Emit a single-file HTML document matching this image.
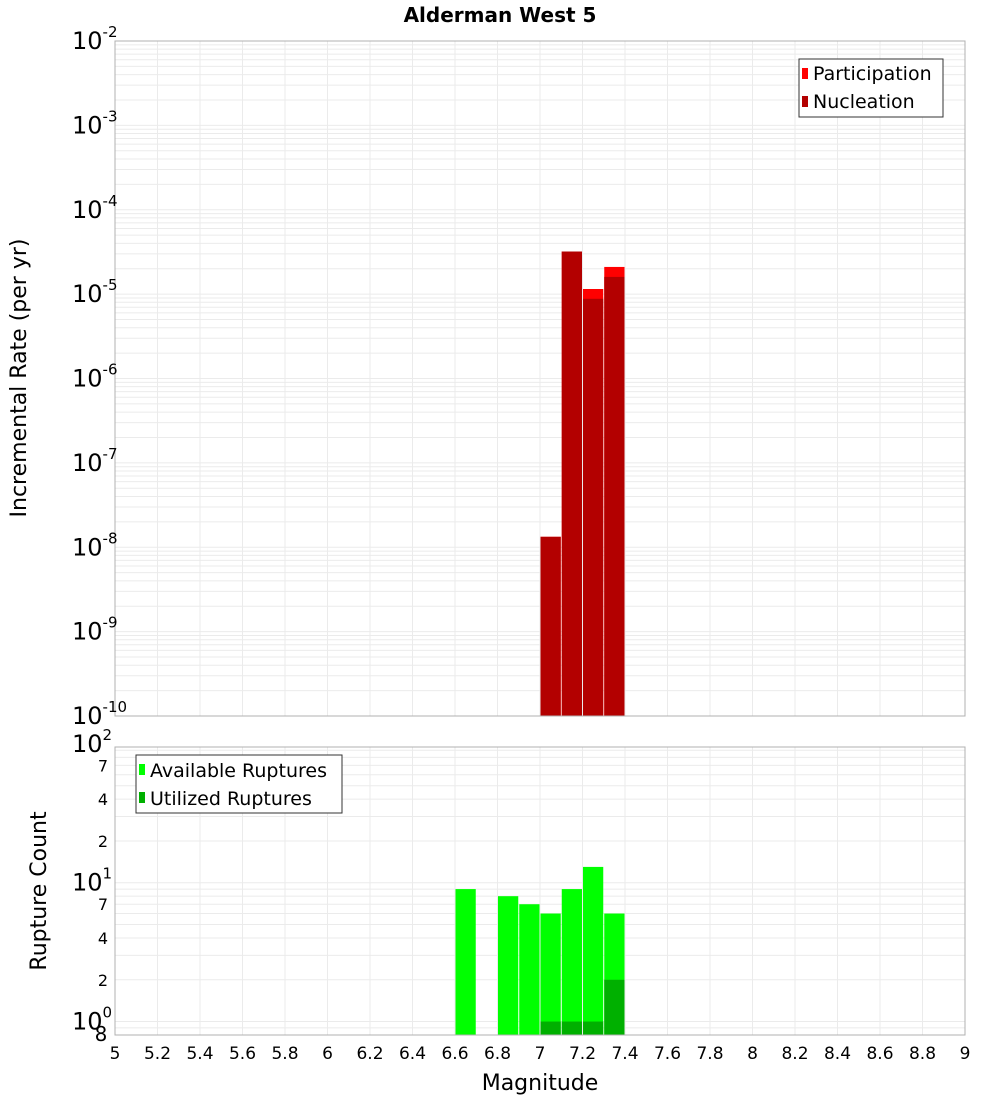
<!DOCTYPE html>
<html><head><meta charset="utf-8">
<style>
html,body{margin:0;padding:0;background:#fff;}
svg{display:block;font-family:"DejaVu Sans","Liberation Sans",sans-serif;}
</style></head>
<body>
<svg id="chart" width="1000" height="1100" xmlns="http://www.w3.org/2000/svg"></svg>
<script>
// ---- data ----
const magBins = [6.65, 6.75, 6.85, 6.95, 7.05, 7.15, 7.25, 7.35];
const participation = [0, 0, 0, 0, 1.33e-8, 3.2e-5, 1.15e-5, 2.1e-5];
const nucleation    = [0, 0, 0, 0, 1.33e-8, 3.2e-5, 8.8e-6, 1.6e-5];
const available = [9, 0, 8, 7, 6, 9, 13, 6];
const utilized  = [0, 0, 0, 0, 1, 1, 1, 2];
const xTicks = [5,5.2,5.4,5.6,5.8,6,6.2,6.4,6.6,6.8,7,7.2,7.4,7.6,7.8,8,8.2,8.4,8.6,8.8,9];
const topExps = [-10,-9,-8,-7,-6,-5,-4,-3,-2];
const botMinor = [2,4,7,20,40,70];

const NS="http://www.w3.org/2000/svg";
const svg=document.getElementById('chart');
function el(tag,attrs,parent){const e=document.createElementNS(NS,tag);for(const k in attrs)e.setAttribute(k,attrs[k]);(parent||svg).appendChild(e);return e;}

const X0=115,X1=965;
const xs=v=>X0+(v-5)/4*(X1-X0);
const T0=41,T1=716;
const ysTop=v=>T1-(Math.log10(v)+10)/8*(T1-T0);
const B0=747,B1=1035;
const bMin=0.8,bMax=95;
const ysBot=v=>B1-(Math.log10(v)-Math.log10(bMin))/(Math.log10(bMax)-Math.log10(bMin))*(B1-B0);
const bw=(X1-X0)/40;

// title
let t=el('text',{x:500,y:22,'text-anchor':'middle','font-size':20,'font-weight':'bold'});
t.textContent='Alderman West 5';


// ---- top panel ----
let gTop=el('g',{});

el('rect',{x:X0,y:T0,width:X1-X0,height:T1-T0,fill:'#fff'},gTop);
let grid=el('g',{stroke:'#ebebeb','stroke-width':1},gTop);

for(let e=-10;e<-2;e++){for(let m=1;m<10;m++){const y=ysTop(m*Math.pow(10,e));el('line',{x1:X0,x2:X1,y1:y,y2:y},grid);}}
xTicks.forEach(v=>{const x=xs(v);el('line',{x1:x,x2:x,y1:T0,y2:T1},grid);el('line',{x1:x,x2:x,y1:B0,y2:B1},grid);});
// bars
magBins.forEach((m,i)=>{
  if(participation[i]>0){const y=ysTop(participation[i]);
    const r=el('rect',{x:xs(m)-bw/2+0.5,y:y,width:bw-1,height:T1-y,fill:'#ff0000'},gTop);
    }
  if(nucleation[i]>0){const y=ysTop(nucleation[i]);
    const r=el('rect',{x:xs(m)-bw/2+0.5,y:y,width:bw-1,height:T1-y,fill:'#b30000'},gTop);
    }
});
el('rect',{x:X0,y:T0,width:X1-X0,height:T1-T0,fill:'none',stroke:'#b0b0b0'},gTop);
topExps.forEach(e=>{const y=ysTop(Math.pow(10,e));
  const tx=el('text',{x:72,y:y+8,'font-size':24},gTop);
  
  tx.textContent='10';
  const s=el('tspan',{dy:-12,'font-size':15},tx);s.textContent=String(e);
});
let yl=el('text',{transform:'translate(26,378) rotate(-90)','text-anchor':'middle','font-size':22});
yl.textContent='Incremental Rate (per yr)';
// legend top
let lg=el('g',{});
el('rect',{x:799,y:59,width:144,height:58,fill:'#fff',stroke:'#333'},lg);
el('rect',{x:802,y:68,width:6,height:11,fill:'#ff0000'},lg);
el('rect',{x:802,y:96,width:6,height:11,fill:'#b30000'},lg);
let l1=el('text',{x:813,y:80,'font-size':19},lg);l1.textContent='Participation';
let l2=el('text',{x:813,y:108,'font-size':19},lg);l2.textContent='Nucleation';

// ---- bottom panel ----
let gBot=el('g',{});
let g2=el('g',{stroke:'#ebebeb','stroke-width':1},gBot);
for(let e=-1;e<2;e++){for(let m=1;m<10;m++){const v=m*Math.pow(10,e);if(v<bMin||v>bMax)continue;const y=ysBot(v);el('line',{x1:X0,x2:X1,y1:y,y2:y},g2);}}
magBins.forEach((m,i)=>{
  if(available[i]>0){const y=ysBot(available[i]);
    const r=el('rect',{x:xs(m)-bw/2+0.5,y:y,width:bw-1,height:B1-y,fill:'#00ff00'},gBot);
    }
  if(utilized[i]>0){const y=ysBot(utilized[i]);
    const r=el('rect',{x:xs(m)-bw/2+0.5,y:y,width:bw-1,height:B1-y,fill:'#00b000'},gBot);
    }
});
el('rect',{x:X0,y:B0,width:X1-X0,height:B1-B0,fill:'none',stroke:'#b0b0b0'},gBot);
[[1,'0'],[10,'1'],[100,'2']].forEach(([v,e])=>{const y=ysBot(v);
  const tx=el('text',{x:72,y:y+8,'font-size':24},gBot);tx.textContent='10';
  
  const s=el('tspan',{dy:-12,'font-size':15},tx);s.textContent=e;});
botMinor.forEach(v=>{const y=ysBot(v);const tx=el('text',{x:103,y:y+6,'text-anchor':'middle','font-size':16},gBot);
  tx.textContent=String(v).charAt(0);});
let t8=el('text',{x:101,y:1041,'text-anchor':'middle','font-size':20},gBot);t8.textContent='8';

let yl2=el('text',{transform:'translate(46,891) rotate(-90)','text-anchor':'middle','font-size':22});
yl2.textContent='Rupture Count';
// legend bottom
let lg2=el('g',{});
el('rect',{x:136,y:755,width:206,height:58,fill:'#fff',stroke:'#333'},lg2);
el('rect',{x:139,y:764,width:6,height:11,fill:'#00ff00'},lg2);
el('rect',{x:139,y:792,width:6,height:11,fill:'#00b000'},lg2);
let l3=el('text',{x:150,y:777,'font-size':19},lg2);l3.textContent='Available Ruptures';
let l4=el('text',{x:150,y:805,'font-size':19},lg2);l4.textContent='Utilized Ruptures';

// x axis
xTicks.forEach(v=>{const tx=el('text',{x:xs(v),y:1059,'text-anchor':'middle','font-size':17});
  tx.textContent=String(v);});
let xl=el('text',{x:540,y:1090,'text-anchor':'middle','font-size':22});
xl.textContent='Magnitude';
</script>
</body></html>
